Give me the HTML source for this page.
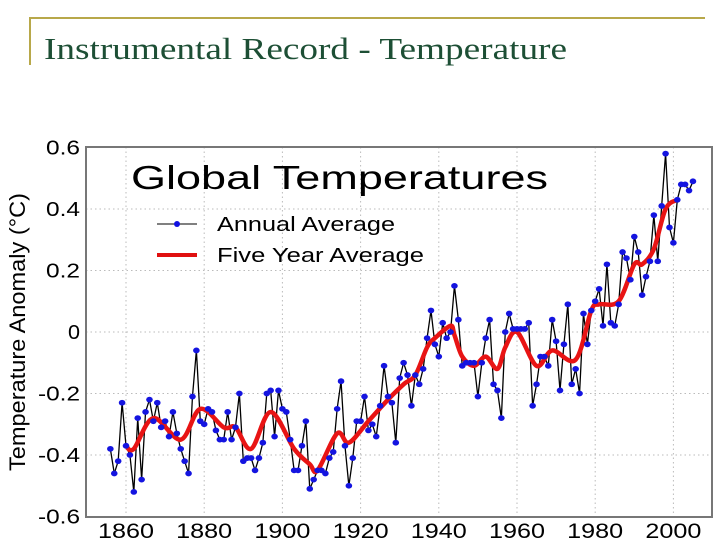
<!DOCTYPE html>
<html><head><meta charset="utf-8"><style>
html,body{margin:0;padding:0;background:#fff;width:720px;height:540px;overflow:hidden}
svg{display:block}
</style></head><body>
<svg id="chart" width="720" height="540" viewBox="0 0 720 540" xmlns="http://www.w3.org/2000/svg">
<line x1="30" y1="18" x2="705" y2="18" stroke="#b8a84a" stroke-width="2"/>
<line x1="30" y1="17" x2="30" y2="65" stroke="#b8a84a" stroke-width="2"/>
<text x="44" y="59" font-family="Liberation Serif, serif" font-size="31" fill="#1d4f35" textLength="523" lengthAdjust="spacingAndGlyphs">Instrumental Record - Temperature</text>
<g id="grid"></g>
<rect x="86" y="147" width="626" height="370" fill="none" stroke="#777" stroke-width="2"/>
<g id="yticks"></g>
<g id="xticks"></g>
<text transform="translate(25,332) rotate(-90)" text-anchor="middle" font-family="Liberation Sans, sans-serif" font-size="22" fill="#000" textLength="278" lengthAdjust="spacingAndGlyphs">Temperature Anomaly (°C)</text>
<text x="131" y="189" font-family="Liberation Sans, sans-serif" font-size="33" fill="#000" textLength="417" lengthAdjust="spacingAndGlyphs">Global Temperatures</text>
<line x1="157" y1="224" x2="197" y2="224" stroke="#000" stroke-width="1"/>
<circle cx="177" cy="224" r="3" fill="#1010e0"/>
<text x="217" y="231" font-family="Liberation Sans, sans-serif" font-size="20" textLength="178" lengthAdjust="spacingAndGlyphs">Annual Average</text>
<line x1="157" y1="255" x2="197" y2="255" stroke="#e01010" stroke-width="4"/>
<text x="217" y="262" font-family="Liberation Sans, sans-serif" font-size="20" textLength="207" lengthAdjust="spacingAndGlyphs">Five Year Average</text>
<g id="series"></g>
</svg>
<script>
const startYear = 1856;
const annualValues = [-0.38,-0.46,-0.42,-0.23,-0.37,-0.40,-0.52,-0.28,-0.48,-0.26,
-0.22,-0.29,-0.23,-0.31,-0.29,-0.34,-0.26,-0.33,-0.38,-0.42,
-0.46,-0.21,-0.06,-0.29,-0.30,-0.25,-0.26,-0.32,-0.35,-0.35,
-0.26,-0.35,-0.31,-0.20,-0.42,-0.41,-0.41,-0.45,-0.41,-0.36,
-0.20,-0.19,-0.34,-0.19,-0.25,-0.26,-0.35,-0.45,-0.45,-0.37,
-0.29,-0.51,-0.48,-0.45,-0.45,-0.46,-0.41,-0.39,-0.25,-0.16,
-0.37,-0.50,-0.41,-0.29,-0.29,-0.21,-0.32,-0.30,-0.34,-0.24,
-0.11,-0.21,-0.23,-0.36,-0.15,-0.10,-0.14,-0.24,-0.14,-0.17,
-0.12,-0.02,0.07,-0.04,-0.08,0.03,-0.02,0.00,0.15,0.04,
-0.11,-0.10,-0.10,-0.10,-0.21,-0.10,-0.02,0.04,-0.17,-0.19,
-0.28,0.00,0.06,0.01,0.01,0.01,0.01,0.03,-0.24,-0.17,
-0.08,-0.08,-0.11,0.04,-0.03,-0.19,-0.04,0.09,-0.17,-0.12,
-0.20,0.06,-0.04,0.07,0.10,0.14,0.02,0.22,0.03,0.02,
0.09,0.26,0.24,0.17,0.31,0.26,0.12,0.18,0.23,0.38,
0.23,0.41,0.58,0.34,0.29,0.43,0.48,0.48,0.46,0.49];
const smoothYears = [1860,1862,1867,1874,1879,1885,1888,1892,1897,1903,1907,1909,1914,1917,1922,1927,1931,1934,1937,1939,1943,1944,1946,1949,1952,1955,1957,1960,1965,1969,1975,1979,1981,1986,1990,1992,1995,1998,2001];
const smoothValues = [-0.37,-0.38,-0.28,-0.35,-0.25,-0.31,-0.31,-0.38,-0.26,-0.38,-0.43,-0.45,-0.33,-0.36,-0.29,-0.22,-0.17,-0.14,-0.05,-0.02,0.02,-0.01,-0.08,-0.11,-0.08,-0.12,-0.05,0.00,-0.11,-0.06,-0.09,0.07,0.09,0.10,0.22,0.22,0.27,0.40,0.43];
const xTickLabels = [1860,1880,1900,1920,1940,1960,1980,2000];
const yTickLabels = [0.6,0.4,0.2,0,-0.2,-0.4,-0.6];

const NS = "http://www.w3.org/2000/svg";
function xs(yr){ return 126 + (yr - 1860) * 3.91; }
function ys(v){ return 332 - v * 307.5; }
function mk(tag, attrs, parent){ const e = document.createElementNS(NS, tag); for (const k in attrs) e.setAttribute(k, attrs[k]); parent.appendChild(e); return e; }

const grid = document.getElementById('grid');
const yt = document.getElementById('yticks');
const xt = document.getElementById('xticks');
yTickLabels.forEach(v => {
  const y = ys(v);
  if (v < 0.59 && v > -0.59) {
    const g = mk('line', {x1:86, x2:712, y1:y, y2:y, stroke:'#bbb', 'stroke-width':1, 'stroke-dasharray':'1.5,3'}, grid);
    
    
  }
  const label = v === 0 ? '0' : (v < 0 ? '-' : '') + Math.abs(v).toFixed(1);
  const t = mk('text', {x:80, y:y+7, 'text-anchor':'end', 'font-family':'Liberation Sans, sans-serif', 'font-size':20, textLength: label.length === 1 ? 12 : (label.length === 3 ? 34 : 42), lengthAdjust:'spacingAndGlyphs'}, yt);
  t.textContent = label;
  
  
});
xTickLabels.forEach(yr => {
  const x = xs(yr);
  const g = mk('line', {x1:x, x2:x, y1:147, y2:517, stroke:'#bbb', 'stroke-width':1, 'stroke-dasharray':'1.5,3'}, grid);
  
  
  const t = mk('text', {x:x, y:538, 'text-anchor':'middle', 'font-family':'Liberation Sans, sans-serif', 'font-size':21, textLength:56, lengthAdjust:'spacingAndGlyphs'}, xt);
  t.textContent = yr;
  
  
});

const series = document.getElementById('series');
const pts = annualValues.map((v, i) => [xs(startYear + i), ys(v)]);
const line = mk('polyline', {points: pts.map(p => p.join(',')).join(' '), fill:'none', stroke:'#000', 'stroke-width':1.3}, series);



const sp = smoothYears.map((yr, i) => [xs(yr), ys(smoothValues[i])]);
let d = 'M' + sp[0][0] + ',' + sp[0][1];
for (let i = 0; i < sp.length - 1; i++) {
  const p0 = sp[Math.max(0, i - 1)], p1 = sp[i], p2 = sp[i + 1], p3 = sp[Math.min(sp.length - 1, i + 2)];
  const c1 = [p1[0] + (p2[0] - p0[0]) / 6, p1[1] + (p2[1] - p0[1]) / 6];
  const c2 = [p2[0] - (p3[0] - p1[0]) / 6, p2[1] - (p3[1] - p1[1]) / 6];
  d += ' C' + c1.join(',') + ' ' + c2.join(',') + ' ' + p2.join(',');
}
const sm = mk('path', {d:d, fill:'none', stroke:'#e81414', 'stroke-width':4.5, 'stroke-linejoin':'round', 'stroke-linecap':'round'}, series);



pts.forEach(p => {
  const c = mk('ellipse', {cx:p[0], cy:p[1], rx:3.3, ry:2.9, fill:'#1414e0'}, series);
  
  
});
</script>
</body></html>
